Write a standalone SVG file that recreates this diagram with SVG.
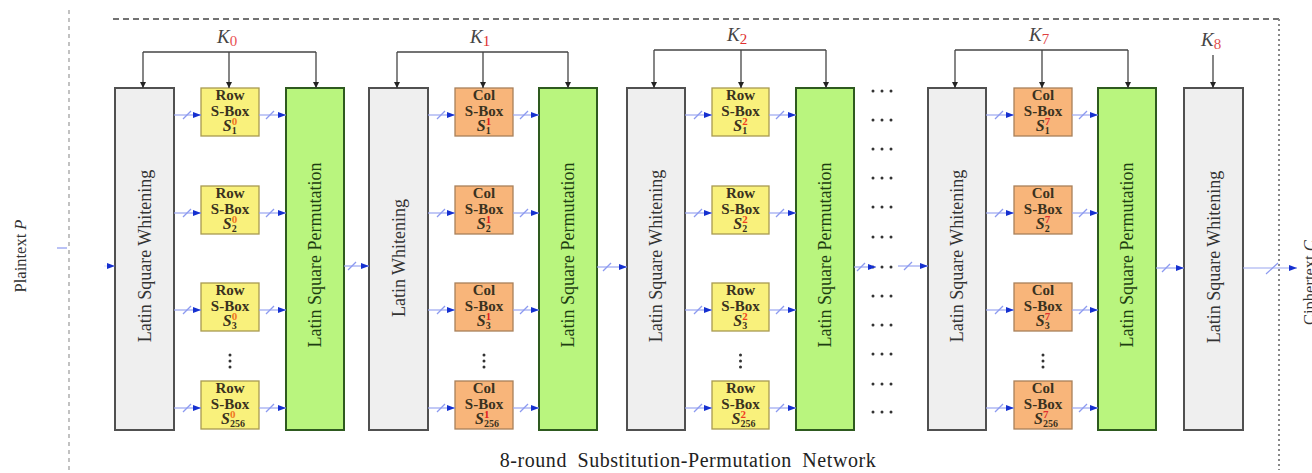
<svg xmlns="http://www.w3.org/2000/svg" width="1312" height="473" viewBox="0 0 1312 473">
  <defs>
    <style>
      .wbox { fill: #efefef; stroke: #505050; stroke-width: 2; }
      .pbox { fill: #b9f57e; stroke: #2e5a1f; stroke-width: 2; }
      .row { fill: #f9f17c; stroke: #a89a50; stroke-width: 1.3; }
      .col { fill: #f8b57a; stroke: #a8805a; stroke-width: 1.3; }
      .lbl { font-family: "Liberation Serif", "Times New Roman", serif; font-size: 18px; fill: #333; text-anchor: middle; dominant-baseline: central; }
      .plbl { fill: #1d3d12; }
      .sb { font-family: "Liberation Serif", "Times New Roman", serif; font-size: 15px; font-weight: bold; fill: #3a3220; text-anchor: middle; }
      .si { font-style: italic; font-size: 16px; }
      .sub { font-size: 10px; }
      .sup { font-size: 11px; }
      .key { stroke: #444; stroke-width: 1.3; fill: none; }
      .klbl { font-family: "Liberation Serif", "Times New Roman", serif; font-size: 19px; font-style: italic; fill: #444; }
      .kidx { font-style: normal; font-size: 15px; }
      .bus { stroke: #9aa6f0; stroke-width: 1.2; fill: none; }
      .slash { stroke: #8c9af0; stroke-width: 1.2; }
      .dot { fill: #333; }
      .cap { font-family: "Liberation Serif", "Times New Roman", serif; font-size: 20px; fill: #222; text-anchor: middle; word-spacing: 5px; letter-spacing: 0.55px; }
      .io { font-family: "Liberation Serif", "Times New Roman", serif; font-size: 16.5px; fill: #333; }
    </style>
    <marker id="ah" viewBox="0 0 8 6" refX="8" refY="3" markerWidth="8" markerHeight="6" markerUnits="userSpaceOnUse" orient="auto">
      <path d="M0,0 L8,3 L0,6 z" fill="#1530d0"/>
    </marker>
    <marker id="kh" viewBox="0 0 6 6" refX="6" refY="3" markerWidth="6" markerHeight="6" markerUnits="userSpaceOnUse" orient="auto">
      <path d="M0,0 L6,3 L0,6 z" fill="#222"/>
    </marker>
  </defs>

  <rect x="0" y="0" width="1312" height="473" fill="#ffffff"/>

  <!-- frame of the network -->
  <g id="frame">
    <line x1="113" y1="19" x2="1279" y2="19" stroke="#444" stroke-width="1.3" stroke-dasharray="6 4"/>
    <line x1="1279" y1="19" x2="1279" y2="470" stroke="#888" stroke-width="2" stroke-dasharray="2 3"/>
    <line x1="69" y1="10" x2="69" y2="470" stroke="#999" stroke-width="1.2" stroke-dasharray="4 4"/>
  </g>

  <!-- input / output labels -->
  <g id="plaintext">
    <text class="io" transform="translate(26,256) rotate(-90)" text-anchor="middle">Plaintext <tspan font-style="italic">P</tspan></text>
  </g>
  <g id="ciphertext">
    <text class="io" transform="translate(1315,325) rotate(-90)" text-anchor="start">Ciphertext <tspan font-style="italic">C</tspan></text>
  </g>

  <!-- round 0 -->
  <g id="r0-whitening">
    <rect class="wbox" x="115" y="88" width="59" height="342"/>
    <text class="lbl" transform="translate(145,256) rotate(-90)">Latin Square Whitening</text>
  </g>
  <g id="r0-sboxes">
    <rect class="row" x="201" y="88" width="58" height="48"/>
    <text class="sb" x="230" y="100">Row</text><text class="sb" x="230" y="116">S-Box</text>
    <text class="sb" x="230" y="131"><tspan class="si">S</tspan><tspan class="sup" dy="-6" fill="#f07820">0</tspan><tspan class="sub" dx="-5.5" dy="9">1</tspan></text>
    <rect class="row" x="201" y="186" width="58" height="48"/>
    <text class="sb" x="230" y="198">Row</text><text class="sb" x="230" y="214">S-Box</text>
    <text class="sb" x="230" y="229"><tspan class="si">S</tspan><tspan class="sup" dy="-6" fill="#f07820">0</tspan><tspan class="sub" dx="-5.5" dy="9">2</tspan></text>
    <rect class="row" x="201" y="283" width="58" height="48"/>
    <text class="sb" x="230" y="295">Row</text><text class="sb" x="230" y="311">S-Box</text>
    <text class="sb" x="230" y="326"><tspan class="si">S</tspan><tspan class="sup" dy="-6" fill="#f07820">0</tspan><tspan class="sub" dx="-5.5" dy="9">3</tspan></text>
    <circle class="dot" cx="230" cy="355" r="1.5"/><circle class="dot" cx="230" cy="361" r="1.5"/><circle class="dot" cx="230" cy="367" r="1.5"/>
    <rect class="row" x="201" y="381" width="58" height="48"/>
    <text class="sb" x="230" y="393">Row</text><text class="sb" x="230" y="409">S-Box</text>
    <text class="sb" x="233" y="424"><tspan class="si">S</tspan><tspan class="sup" dy="-6" fill="#f07820">0</tspan><tspan class="sub" dx="-5.5" dy="9">256</tspan></text>
  </g>
  <g id="r0-permutation">
    <rect class="pbox" x="286" y="88" width="58" height="342"/>
    <text class="lbl plbl" transform="translate(315,255) rotate(-90)">Latin Square Permutation</text>
  </g>

  <!-- round 1 -->
  <g id="r1-whitening">
    <rect class="wbox" x="369" y="88" width="59" height="342"/>
    <text class="lbl" transform="translate(399,258) rotate(-90)">Latin Whitening</text>
  </g>
  <g id="r1-sboxes">
    <rect class="col" x="455" y="88" width="58" height="48"/>
    <text class="sb" x="484" y="100">Col</text><text class="sb" x="484" y="116">S-Box</text>
    <text class="sb" x="484" y="131"><tspan class="si">S</tspan><tspan class="sup" dy="-6" fill="#e02020">1</tspan><tspan class="sub" dx="-5.5" dy="9">1</tspan></text>
    <rect class="col" x="455" y="186" width="58" height="48"/>
    <text class="sb" x="484" y="198">Col</text><text class="sb" x="484" y="214">S-Box</text>
    <text class="sb" x="484" y="229"><tspan class="si">S</tspan><tspan class="sup" dy="-6" fill="#e02020">1</tspan><tspan class="sub" dx="-5.5" dy="9">2</tspan></text>
    <rect class="col" x="455" y="283" width="58" height="48"/>
    <text class="sb" x="484" y="295">Col</text><text class="sb" x="484" y="311">S-Box</text>
    <text class="sb" x="484" y="326"><tspan class="si">S</tspan><tspan class="sup" dy="-6" fill="#e02020">1</tspan><tspan class="sub" dx="-5.5" dy="9">3</tspan></text>
    <circle class="dot" cx="484" cy="355" r="1.5"/><circle class="dot" cx="484" cy="361" r="1.5"/><circle class="dot" cx="484" cy="367" r="1.5"/>
    <rect class="col" x="455" y="381" width="58" height="48"/>
    <text class="sb" x="484" y="393">Col</text><text class="sb" x="484" y="409">S-Box</text>
    <text class="sb" x="487" y="424"><tspan class="si">S</tspan><tspan class="sup" dy="-6" fill="#e02020">1</tspan><tspan class="sub" dx="-5.5" dy="9">256</tspan></text>
  </g>
  <g id="r1-permutation">
    <rect class="pbox" x="539" y="88" width="58" height="342"/>
    <text class="lbl plbl" transform="translate(568,255) rotate(-90)">Latin Square Permutation</text>
  </g>

  <!-- round 2 -->
  <g id="r2-whitening">
    <rect class="wbox" x="627" y="88" width="58" height="342"/>
    <text class="lbl" transform="translate(656,256) rotate(-90)">Latin Square Whitening</text>
  </g>
  <g id="r2-sboxes">
    <rect class="row" x="712" y="88" width="57" height="48"/>
    <text class="sb" x="740.5" y="100">Row</text><text class="sb" x="740.5" y="116">S-Box</text>
    <text class="sb" x="740.5" y="131"><tspan class="si">S</tspan><tspan class="sup" dy="-6" fill="#f04020">2</tspan><tspan class="sub" dx="-5.5" dy="9">1</tspan></text>
    <rect class="row" x="712" y="186" width="57" height="48"/>
    <text class="sb" x="740.5" y="198">Row</text><text class="sb" x="740.5" y="214">S-Box</text>
    <text class="sb" x="740.5" y="229"><tspan class="si">S</tspan><tspan class="sup" dy="-6" fill="#f04020">2</tspan><tspan class="sub" dx="-5.5" dy="9">2</tspan></text>
    <rect class="row" x="712" y="283" width="57" height="48"/>
    <text class="sb" x="740.5" y="295">Row</text><text class="sb" x="740.5" y="311">S-Box</text>
    <text class="sb" x="740.5" y="326"><tspan class="si">S</tspan><tspan class="sup" dy="-6" fill="#f04020">2</tspan><tspan class="sub" dx="-5.5" dy="9">3</tspan></text>
    <circle class="dot" cx="740.5" cy="355" r="1.5"/><circle class="dot" cx="740.5" cy="361" r="1.5"/><circle class="dot" cx="740.5" cy="367" r="1.5"/>
    <rect class="row" x="712" y="381" width="57" height="48"/>
    <text class="sb" x="740.5" y="393">Row</text><text class="sb" x="740.5" y="409">S-Box</text>
    <text class="sb" x="743.5" y="424"><tspan class="si">S</tspan><tspan class="sup" dy="-6" fill="#f04020">2</tspan><tspan class="sub" dx="-5.5" dy="9">256</tspan></text>
  </g>
  <g id="r2-permutation">
    <rect class="pbox" x="796" y="88" width="58" height="342"/>
    <text class="lbl plbl" transform="translate(825,255) rotate(-90)">Latin Square Permutation</text>
  </g>

  <!-- rounds 3 to 6, elided -->
  <g id="elided-rounds">
    <circle class="dot" cx="873" cy="91" r="1.5"/><circle class="dot" cx="882" cy="91" r="1.5"/><circle class="dot" cx="891" cy="91" r="1.5"/>
    <circle class="dot" cx="873" cy="120" r="1.5"/><circle class="dot" cx="882" cy="120" r="1.5"/><circle class="dot" cx="891" cy="120" r="1.5"/>
    <circle class="dot" cx="873" cy="149" r="1.5"/><circle class="dot" cx="882" cy="149" r="1.5"/><circle class="dot" cx="891" cy="149" r="1.5"/>
    <circle class="dot" cx="873" cy="178" r="1.5"/><circle class="dot" cx="882" cy="178" r="1.5"/><circle class="dot" cx="891" cy="178" r="1.5"/>
    <circle class="dot" cx="873" cy="207" r="1.5"/><circle class="dot" cx="882" cy="207" r="1.5"/><circle class="dot" cx="891" cy="207" r="1.5"/>
    <circle class="dot" cx="873" cy="237" r="1.5"/><circle class="dot" cx="882" cy="237" r="1.5"/><circle class="dot" cx="891" cy="237" r="1.5"/>
    <circle class="dot" cx="873" cy="267" r="1.5"/><circle class="dot" cx="882" cy="267" r="1.5"/><circle class="dot" cx="891" cy="267" r="1.5"/>
    <circle class="dot" cx="873" cy="296" r="1.5"/><circle class="dot" cx="882" cy="296" r="1.5"/><circle class="dot" cx="891" cy="296" r="1.5"/>
    <circle class="dot" cx="873" cy="325" r="1.5"/><circle class="dot" cx="882" cy="325" r="1.5"/><circle class="dot" cx="891" cy="325" r="1.5"/>
    <circle class="dot" cx="873" cy="354" r="1.5"/><circle class="dot" cx="882" cy="354" r="1.5"/><circle class="dot" cx="891" cy="354" r="1.5"/>
    <circle class="dot" cx="873" cy="384" r="1.5"/><circle class="dot" cx="882" cy="384" r="1.5"/><circle class="dot" cx="891" cy="384" r="1.5"/>
    <circle class="dot" cx="873" cy="412" r="1.5"/><circle class="dot" cx="882" cy="412" r="1.5"/><circle class="dot" cx="891" cy="412" r="1.5"/>
  </g>

  <!-- round 7 -->
  <g id="r7-whitening">
    <rect class="wbox" x="928" y="88" width="58" height="342"/>
    <text class="lbl" transform="translate(957,256) rotate(-90)">Latin Square Whitening</text>
  </g>
  <g id="r7-sboxes">
    <rect class="col" x="1014" y="88" width="58" height="48"/>
    <text class="sb" x="1043" y="100">Col</text><text class="sb" x="1043" y="116">S-Box</text>
    <text class="sb" x="1043" y="131"><tspan class="si">S</tspan><tspan class="sup" dy="-6" fill="#e03030">7</tspan><tspan class="sub" dx="-5.5" dy="9">1</tspan></text>
    <rect class="col" x="1014" y="186" width="58" height="48"/>
    <text class="sb" x="1043" y="198">Col</text><text class="sb" x="1043" y="214">S-Box</text>
    <text class="sb" x="1043" y="229"><tspan class="si">S</tspan><tspan class="sup" dy="-6" fill="#e03030">7</tspan><tspan class="sub" dx="-5.5" dy="9">2</tspan></text>
    <rect class="col" x="1014" y="283" width="58" height="48"/>
    <text class="sb" x="1043" y="295">Col</text><text class="sb" x="1043" y="311">S-Box</text>
    <text class="sb" x="1043" y="326"><tspan class="si">S</tspan><tspan class="sup" dy="-6" fill="#e03030">7</tspan><tspan class="sub" dx="-5.5" dy="9">3</tspan></text>
    <circle class="dot" cx="1043" cy="355" r="1.5"/><circle class="dot" cx="1043" cy="361" r="1.5"/><circle class="dot" cx="1043" cy="367" r="1.5"/>
    <rect class="col" x="1014" y="381" width="58" height="48"/>
    <text class="sb" x="1043" y="393">Col</text><text class="sb" x="1043" y="409">S-Box</text>
    <text class="sb" x="1046" y="424"><tspan class="si">S</tspan><tspan class="sup" dy="-6" fill="#e03030">7</tspan><tspan class="sub" dx="-5.5" dy="9">256</tspan></text>
  </g>
  <g id="r7-permutation">
    <rect class="pbox" x="1098" y="88" width="58" height="342"/>
    <text class="lbl plbl" transform="translate(1127,255) rotate(-90)">Latin Square Permutation</text>
  </g>

  <!-- final whitening -->
  <g id="final-whitening">
    <rect class="wbox" x="1184" y="88" width="59" height="342"/>
    <text class="lbl" transform="translate(1214,257) rotate(-90)">Latin Square Whitening</text>
  </g>

  <!-- round keys -->
  <g id="keys">
    <text class="klbl" x="217" y="43">K<tspan class="kidx" fill="#e85050" dy="3">0</tspan></text>
    <text class="klbl" x="470" y="43">K<tspan class="kidx" fill="#e03030" dy="3">1</tspan></text>
    <text class="klbl" x="727" y="41">K<tspan class="kidx" fill="#e03030" dy="3">2</tspan></text>
    <text class="klbl" x="1029" y="41">K<tspan class="kidx" fill="#e04040" dy="3">7</tspan></text>
    <text class="klbl" x="1201" y="46">K<tspan class="kidx" fill="#e05050" dy="3">8</tspan></text>
  </g>

  <g id="connectors">
    <!-- key distribution -->
    <path class="key" d="M143,52 H316"/>
    <path class="key" d="M143,52 V88" marker-end="url(#kh)"/>
    <path class="key" d="M229,52 V88" marker-end="url(#kh)"/>
    <path class="key" d="M316,52 V88" marker-end="url(#kh)"/>
    <path class="key" d="M397,52 H568"/>
    <path class="key" d="M397,52 V88" marker-end="url(#kh)"/>
    <path class="key" d="M483,52 V88" marker-end="url(#kh)"/>
    <path class="key" d="M568,52 V88" marker-end="url(#kh)"/>
    <path class="key" d="M654,50 H826"/>
    <path class="key" d="M654,50 V88" marker-end="url(#kh)"/>
    <path class="key" d="M741,50 V88" marker-end="url(#kh)"/>
    <path class="key" d="M826,50 V88" marker-end="url(#kh)"/>
    <path class="key" d="M955,50 H1128"/>
    <path class="key" d="M955,50 V88" marker-end="url(#kh)"/>
    <path class="key" d="M1042,50 V88" marker-end="url(#kh)"/>
    <path class="key" d="M1128,50 V88" marker-end="url(#kh)"/>
    <path class="key" d="M1213,55 V88" marker-end="url(#kh)"/>

    <!-- plaintext input -->
    <line class="slash" x1="57" y1="248" x2="67" y2="248"/>
    <line class="bus" x1="104" y1="266" x2="115" y2="266" stroke-opacity="0.3" marker-end="url(#ah)"/>

    <!-- round 0 data paths -->
    <line class="bus" x1="174" y1="115" x2="201" y2="115" marker-end="url(#ah)"/><line class="slash" x1="183" y1="119" x2="191" y2="111"/>
    <line class="bus" x1="174" y1="213" x2="201" y2="213" marker-end="url(#ah)"/><line class="slash" x1="183" y1="217" x2="191" y2="209"/>
    <line class="bus" x1="174" y1="310" x2="201" y2="310" marker-end="url(#ah)"/><line class="slash" x1="183" y1="314" x2="191" y2="306"/>
    <line class="bus" x1="174" y1="408" x2="201" y2="408" marker-end="url(#ah)"/><line class="slash" x1="183" y1="412" x2="191" y2="404"/>
    <line class="bus" x1="259" y1="115" x2="286" y2="115" marker-end="url(#ah)"/><line class="slash" x1="266" y1="119" x2="274" y2="111"/>
    <line class="bus" x1="259" y1="213" x2="286" y2="213" marker-end="url(#ah)"/><line class="slash" x1="266" y1="217" x2="274" y2="209"/>
    <line class="bus" x1="259" y1="310" x2="286" y2="310" marker-end="url(#ah)"/><line class="slash" x1="266" y1="314" x2="274" y2="306"/>
    <line class="bus" x1="259" y1="408" x2="286" y2="408" marker-end="url(#ah)"/><line class="slash" x1="266" y1="412" x2="274" y2="404"/>
    <line class="bus" x1="344" y1="266" x2="369" y2="266" marker-end="url(#ah)"/><line class="slash" x1="348" y1="270" x2="356" y2="262"/>

    <!-- round 1 data paths -->
    <line class="bus" x1="428" y1="115" x2="455" y2="115" marker-end="url(#ah)"/><line class="slash" x1="437" y1="119" x2="445" y2="111"/>
    <line class="bus" x1="428" y1="213" x2="455" y2="213" marker-end="url(#ah)"/><line class="slash" x1="437" y1="217" x2="445" y2="209"/>
    <line class="bus" x1="428" y1="310" x2="455" y2="310" marker-end="url(#ah)"/><line class="slash" x1="437" y1="314" x2="445" y2="306"/>
    <line class="bus" x1="428" y1="408" x2="455" y2="408" marker-end="url(#ah)"/><line class="slash" x1="437" y1="412" x2="445" y2="404"/>
    <line class="bus" x1="513" y1="115" x2="539" y2="115" marker-end="url(#ah)"/><line class="slash" x1="520" y1="119" x2="528" y2="111"/>
    <line class="bus" x1="513" y1="213" x2="539" y2="213" marker-end="url(#ah)"/><line class="slash" x1="520" y1="217" x2="528" y2="209"/>
    <line class="bus" x1="513" y1="310" x2="539" y2="310" marker-end="url(#ah)"/><line class="slash" x1="520" y1="314" x2="528" y2="306"/>
    <line class="bus" x1="513" y1="408" x2="539" y2="408" marker-end="url(#ah)"/><line class="slash" x1="520" y1="412" x2="528" y2="404"/>
    <line class="bus" x1="597" y1="267" x2="627" y2="267" marker-end="url(#ah)"/><line class="slash" x1="603" y1="271" x2="611" y2="263"/>

    <!-- round 2 data paths -->
    <line class="bus" x1="685" y1="115" x2="712" y2="115" marker-end="url(#ah)"/><line class="slash" x1="694" y1="119" x2="702" y2="111"/>
    <line class="bus" x1="685" y1="213" x2="712" y2="213" marker-end="url(#ah)"/><line class="slash" x1="694" y1="217" x2="702" y2="209"/>
    <line class="bus" x1="685" y1="310" x2="712" y2="310" marker-end="url(#ah)"/><line class="slash" x1="694" y1="314" x2="702" y2="306"/>
    <line class="bus" x1="685" y1="408" x2="712" y2="408" marker-end="url(#ah)"/><line class="slash" x1="694" y1="412" x2="702" y2="404"/>
    <line class="bus" x1="769" y1="115" x2="796" y2="115" marker-end="url(#ah)"/><line class="slash" x1="776" y1="119" x2="784" y2="111"/>
    <line class="bus" x1="769" y1="213" x2="796" y2="213" marker-end="url(#ah)"/><line class="slash" x1="776" y1="217" x2="784" y2="209"/>
    <line class="bus" x1="769" y1="310" x2="796" y2="310" marker-end="url(#ah)"/><line class="slash" x1="776" y1="314" x2="784" y2="306"/>
    <line class="bus" x1="769" y1="408" x2="796" y2="408" marker-end="url(#ah)"/><line class="slash" x1="776" y1="412" x2="784" y2="404"/>
    <line class="bus" x1="854" y1="267" x2="876" y2="267" marker-end="url(#ah)"/><line class="slash" x1="857" y1="271" x2="865" y2="263"/>
    <line class="bus" x1="898" y1="266" x2="928" y2="266" marker-end="url(#ah)"/><line class="slash" x1="904" y1="270" x2="912" y2="262"/>

    <!-- round 7 data paths -->
    <line class="bus" x1="986" y1="115" x2="1014" y2="115" marker-end="url(#ah)"/><line class="slash" x1="995" y1="119" x2="1003" y2="111"/>
    <line class="bus" x1="986" y1="213" x2="1014" y2="213" marker-end="url(#ah)"/><line class="slash" x1="995" y1="217" x2="1003" y2="209"/>
    <line class="bus" x1="986" y1="310" x2="1014" y2="310" marker-end="url(#ah)"/><line class="slash" x1="995" y1="314" x2="1003" y2="306"/>
    <line class="bus" x1="986" y1="408" x2="1014" y2="408" marker-end="url(#ah)"/><line class="slash" x1="995" y1="412" x2="1003" y2="404"/>
    <line class="bus" x1="1072" y1="115" x2="1098" y2="115" marker-end="url(#ah)"/><line class="slash" x1="1079" y1="119" x2="1087" y2="111"/>
    <line class="bus" x1="1072" y1="213" x2="1098" y2="213" marker-end="url(#ah)"/><line class="slash" x1="1079" y1="217" x2="1087" y2="209"/>
    <line class="bus" x1="1072" y1="310" x2="1098" y2="310" marker-end="url(#ah)"/><line class="slash" x1="1079" y1="314" x2="1087" y2="306"/>
    <line class="bus" x1="1072" y1="408" x2="1098" y2="408" marker-end="url(#ah)"/><line class="slash" x1="1079" y1="412" x2="1087" y2="404"/>
    <line class="bus" x1="1156" y1="268" x2="1184" y2="268" marker-end="url(#ah)"/><line class="slash" x1="1162" y1="272" x2="1170" y2="264"/>

    <!-- ciphertext output -->
    <line class="bus" x1="1243" y1="268" x2="1297" y2="268" marker-end="url(#ah)"/><line class="slash" x1="1266" y1="274" x2="1278" y2="263"/>
  </g>

  <text class="cap" x="688" y="467">8-round Substitution-Permutation Network</text>
</svg>
